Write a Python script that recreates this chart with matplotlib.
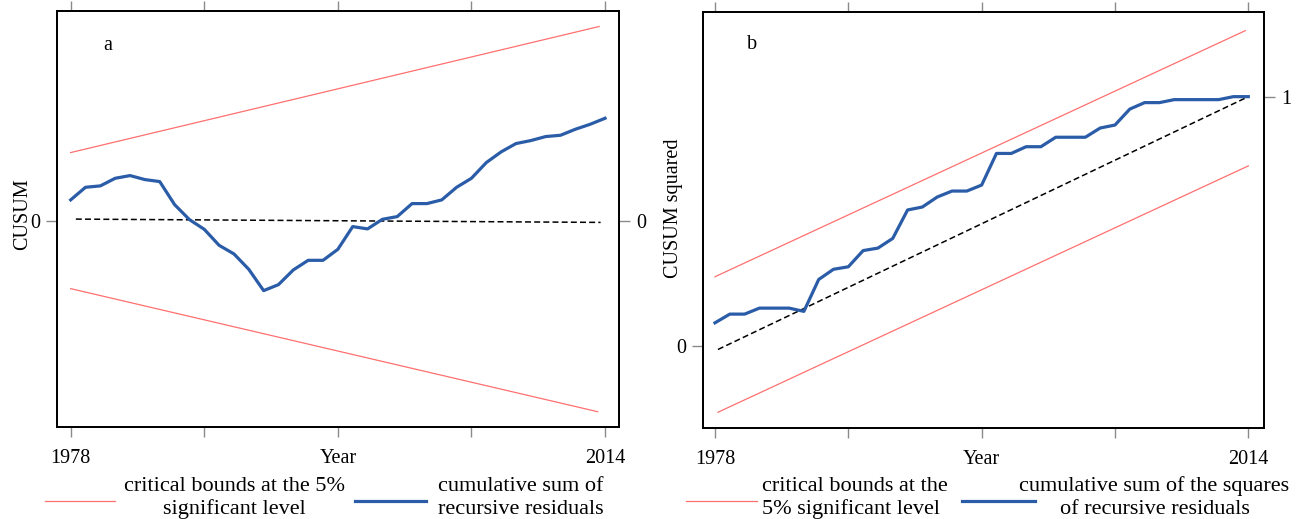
import numpy as np
import matplotlib.pyplot as plt
from matplotlib.lines import Line2D

plt.rcParams['font.family'] = ['Liberation Serif', 'DejaVu Serif']

#Data
years = np.arange(1978, 2015)

cusum = [2.07, 3.33, 3.47, 4.23, 4.5, 4.1, 3.9, 1.6, 0.1, -0.87,
         -2.47, -3.33, -4.87, -7.0, -6.4, -4.93, -3.97, -3.97, -2.87, -0.6,
         -0.83, 0.13, 0.4, 1.7, 1.7, 2.07, 3.33, 4.23, 5.8, 6.87,
         7.7, 8.0, 8.4, 8.53, 9.13, 9.63, 10.23]
cusum_upper_x = [1978, 2013.6]
cusum_upper = [6.8, 19.4]
cusum_lower_x = [1978, 2013.5]
cusum_lower = [-6.8, -19.1]
cusum_mid_x = [1978.35, 2013.7]
cusum_mid = [0.15, -0.18]

cusumsq = [0.092, 0.127, 0.127, 0.151, 0.151, 0.151, 0.138, 0.266, 0.307, 0.317,
           0.382, 0.392, 0.431, 0.545, 0.557, 0.597, 0.621, 0.621, 0.645, 0.772,
           0.772, 0.799, 0.799, 0.837, 0.837, 0.837, 0.874, 0.886, 0.950, 0.976,
           0.976, 0.988, 0.988, 0.988, 0.988, 1.0, 1.0]
cusumsq_upper_x = [1978, 2013.8]
cusumsq_upper = [0.277, 1.265]
cusumsq_lower_x = [1978.2, 2014]
cusumsq_lower = [-0.267, 0.722]
cusumsq_mid_x = [1978.2, 2014]
cusumsq_mid = [-0.015, 1.0]

xticks = [1978, 1987, 1996, 2005, 2014]
xticklabels = ['1978', '', 'Year', '', '2014']

#Styles
red = '#ff7070'
blue = '#2a5ca8'
tickgray = '#8a8a8a'
dash = (0, (3.9, 2.1))
W, H = 1301, 519

fig = plt.figure(figsize=(13.01, 5.19), dpi=100)

def px(x, y):
    return x / W, 1 - y / H

def SetupAxes(ax, xlim, ylim, lefttick, righttick):
    ax.set_xlim(*xlim)
    ax.set_ylim(*ylim)
    ax.set_xticks(xticks)
    ax.set_xticklabels(xticklabels)
    ax.set_yticks(lefttick)
    ax.tick_params(axis='x', top=True, direction='out', length=7, width=1,
                   color=tickgray, labelsize=14.5, pad=9)
    ax.tick_params(axis='y', direction='out', length=8, width=1,
                   color=tickgray, labelsize=14.5, pad=4)
    for s in ax.spines.values():
        s.set_linewidth(1.3)
    ax2 = ax.twinx()
    ax2.set_ylim(*ylim)
    ax2.set_yticks(righttick)
    ax2.tick_params(axis='y', direction='out', length=8, width=1,
                    color=tickgray, labelsize=14.5, pad=4)
    for s in ax2.spines.values():
        s.set_linewidth(1.3)
    return ax2

#Panel a
axa = fig.add_axes([57.3 / W, 1 - 426.7 / H, 562 / W, 415.7 / H])
SetupAxes(axa, (1977.1, 2014.96), (-20.6, 20.95), [0], [0])
axa.plot(cusum_upper_x, cusum_upper, color=red, lw=0.9)
axa.plot(cusum_lower_x, cusum_lower, color=red, lw=0.9)
axa.plot(cusum_mid_x, cusum_mid, color='black', lw=1.1, ls=dash)
axa.plot(years, cusum, color=blue, lw=2.3)
axa.text(0.089, 0.918, 'a', transform=axa.transAxes, fontsize=14.5,
         ha='center', va='center')
axa.set_ylabel('CUSUM', fontsize=14.5)
axa.yaxis.label.set_va('center')
axa.yaxis.set_label_coords((22.5 - 57.3) / 562, (426.7 - 214) / 415.7)

#Panel b
axb = fig.add_axes([702.7 / W, 1 - 427.7 / H, 561.6 / W, 416 / H])
SetupAxes(axb, (1977.17, 2015.08), (-0.329, 1.341), [0], [1])
axb.plot(cusumsq_upper_x, cusumsq_upper, color=red, lw=0.9)
axb.plot(cusumsq_lower_x, cusumsq_lower, color=red, lw=0.9)
axb.plot(cusumsq_mid_x, cusumsq_mid, color='black', lw=1.1, ls=dash)
axb.plot(years, cusumsq, color=blue, lw=2.3)
axb.text(0.088, 0.92, 'b', transform=axb.transAxes, fontsize=14.5,
         ha='center', va='center')
axb.set_ylabel('CUSUM squared', fontsize=14.5)
axb.yaxis.label.set_va('center')
axb.yaxis.set_label_coords((674 - 702.7) / 561.6, (427.7 - 208.5) / 416)

#Legends below the panels
def LegLine(x1, x2, y, c, lw):
    (fx1, fy), (fx2, _) = px(x1, y), px(x2, y)
    fig.add_artist(Line2D([fx1, fx2], [fy, fy], color=c, lw=lw))

def LegText(x, y, s, ha):
    fx, fy = px(x, y)
    fig.text(fx, fy, s, ha=ha, va='baseline', fontsize=16)

LegLine(44.6, 114.6, 501, red, 0.9)
LegText(234.5, 491, 'critical bounds at the 5%', 'center')
LegText(234.5, 514, 'significant level', 'center')
LegLine(355, 426, 501, blue, 2.3)
LegText(437.7, 491, 'cumulative sum of', 'left')
LegText(437.7, 514, 'recursive residuals', 'left')

LegLine(686, 757, 501, red, 0.9)
LegText(761.5, 491, 'critical bounds at the', 'left')
LegText(761.5, 514, '5% significant level', 'left')
LegLine(962, 1035, 501, blue, 2.3)
LegText(1154.5, 491, 'cumulative sum of the squares', 'center')
LegText(1154.5, 514, 'of recursive residuals', 'center')

plt.savefig('out.png', dpi=100)
